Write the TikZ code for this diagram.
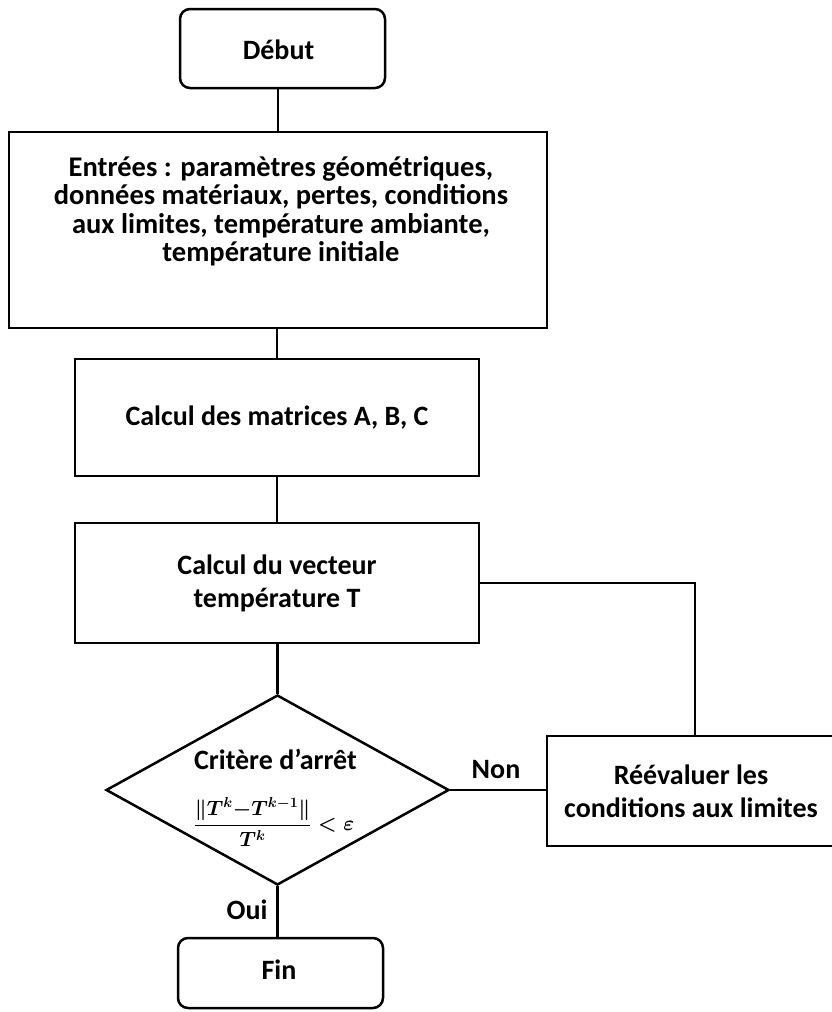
\documentclass[tikz,border=0pt]{standalone}
\usepackage{fontspec}
\usepackage{amsmath}
\setmainfont{Carlito}
\usetikzlibrary{shapes.geometric}
\begin{document}
\begin{tikzpicture}[x=1pt,y=-1pt,
  every node/.style={font=\fontsize{28}{33}\selectfont\bfseries},
  box/.style={draw,line width=2.5pt,rectangle,inner sep=0pt,align=center},
  term/.style={draw,line width=2.5pt,rectangle,rounded corners=10pt,inner sep=0pt},
  link/.style={line width=2.5pt}]
\useasboundingbox (0,0) rectangle (832,1012);
\node[term,minimum width=205pt,minimum height=79pt] (debut) at (282.5,48.5) {};
\node (debuttxt) at (278.5,50) {Début};
\node[box,minimum width=538pt,minimum height=196pt] (entrees) at (278,230) {};
\node[align=center,font=\fontsize{28.5}{28.5}\selectfont\bfseries] (entreestxt) at (281,211) {Entrées : paramètres géométriques,\\données matériaux, pertes, conditions\\aux limites, température ambiante,\\température initiale};
\node[box,minimum width=404pt,minimum height=117pt] (matrices) at (277,417.5) {Calcul des matrices A, B, C};
\node[box,minimum width=404pt,minimum height=120pt] (vecteur) at (277,583) {Calcul du vecteur\\température T};
\node[draw,line width=2.5pt,diamond,inner sep=0pt,minimum width=343pt,minimum height=190pt] (crit) at (277.5,790) {};
\node (crittxt) at (275.5,759) {Critère d’arrêt};
\node[font=\fontsize{22}{26}\selectfont\boldmath] (formule) at (274,822) {$\dfrac{\lVert T^{k}{-}T^{k-1}\rVert}{T^{k}}<\varepsilon$};
\node[draw,line width=2.5pt,rectangle,inner sep=0pt,minimum width=296pt,minimum height=110pt] (reev) at (695,791) {};
\node[align=center] (reevtxt) at (691,791) {Réévaluer les\\conditions aux limites};
\node[term,minimum width=205pt,minimum height=70pt] (fin) at (280.5,973) {};
\node (fintxt) at (279,970) {Fin};
\node (non) at (496,770) {Non};
\node (oui) at (247,910) {Oui};
\draw[link] (debut.south -| entrees.north) -- (entrees.north);
\draw[link] (entrees.south -| matrices.north) -- (matrices.north);
\draw[link] (matrices) -- (vecteur);
\draw[link] (vecteur.south -| crit.north) -- (crit.north);
\draw[link] (crit.south) -- (crit.south |- fin.north);
\draw[link] (crit.east) -- (crit.east -| reev.west);
\draw[link] (vecteur.east) -| (reev.north);
\end{tikzpicture}
\end{document}
